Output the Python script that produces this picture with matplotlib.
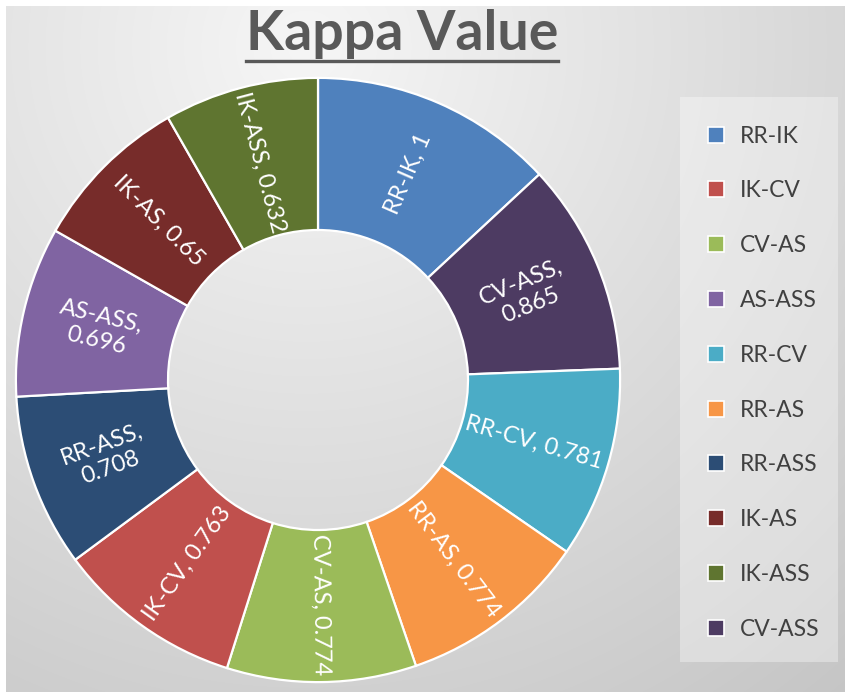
import matplotlib
matplotlib.use("Agg")
import matplotlib.pyplot as plt
import numpy as np
from matplotlib.patches import Patch, Rectangle
from matplotlib.lines import Line2D

plt.rcParams["font.family"] = ["Lato", "DejaVu Sans"]

# data, in legend order
pairs = ["RR-IK", "IK-CV", "CV-AS", "AS-ASS", "RR-CV",
         "RR-AS", "RR-ASS", "IK-AS", "IK-ASS", "CV-ASS"]
kappa = [1, 0.763, 0.774, 0.696, 0.781, 0.774, 0.708, 0.65, 0.632, 0.865]
colors = ["#4F81BD", "#C0504D", "#9BBB59", "#8064A2", "#4BACC6",
          "#F79646", "#2C4D75", "#772C2A", "#5F7530", "#4D3B62"]

# order of the slices, clockwise from the top
ring_order = ["RR-IK", "CV-ASS", "RR-CV", "RR-AS", "CV-AS",
              "IK-CV", "RR-ASS", "AS-ASS", "IK-AS", "IK-ASS"]
two_line = ["CV-ASS", "AS-ASS", "RR-ASS"]

W, H = 851, 698
fig = plt.figure(figsize=(W / 100, H / 100), dpi=100)
fig.patch.set_facecolor("white")

# gradient background
bg = fig.add_axes([6 / W, 6 / H, 839 / W, 686 / H])
bg.set_axis_off()
yy, xx = np.mgrid[0:686, 0:839]
d = np.hypot(xx - 300, yy - 40) / 860
d = np.clip(d, 0, 1)
c0, c1 = 0.965, 0.77
grad = c0 + (c1 - c0) * d
bg.imshow(np.dstack([grad, grad, grad]), aspect="auto", interpolation="bilinear")

# doughnut
ax = fig.add_axes([18 / W, 18 / H, 600 / W, 600 / H])
ax.patch.set_alpha(0)
idx = [pairs.index(p) for p in ring_order]
vals = [kappa[i] for i in idx]
cols = [colors[i] for i in idx]
wedges, _ = ax.pie(vals, colors=cols, startangle=90, counterclock=False,
                   radius=1.007,
                   wedgeprops=dict(width=0.507, edgecolor="white", linewidth=1.6))
ax.set_xlim(-1, 1)
ax.set_ylim(-1, 1)
ax.set_aspect("equal")
ax.axis("off")

for w, name, v in zip(wedges, ring_order, vals):
    ang = (w.theta1 + w.theta2) / 2
    r = 0.75
    x, y = r * np.cos(np.radians(ang)), r * np.sin(np.radians(ang))
    rot = (ang + 90) % 180 - 90
    sep = ",\n" if name in two_line else ", "
    ax.text(x, y, f"{name}{sep}{v:g}", rotation=rot, rotation_mode="anchor",
            ha="center", va="center", color="white", fontsize=17,
            linespacing=1.2, multialignment="center")

# legend box
fig.patches.append(Rectangle((680 / W, 1 - 662 / H), 158 / W, 565 / H,
                             transform=fig.transFigure, facecolor="white",
                             alpha=0.35, edgecolor="none"))
handles = [Patch(facecolor=c, edgecolor="white", linewidth=1.2) for c in colors]
fig.legend(handles, pairs, loc="upper left",
           bbox_to_anchor=(687 / W, 1 - 105 / H), frameon=False,
           fontsize=16.5, handlelength=0.7, handleheight=0.7,
           handletextpad=0.7, labelspacing=1.475, labelcolor="#404040")

# title
title = fig.text(402 / W, 1 - 50 / H, "Kappa Value", ha="center", va="baseline",
                 fontsize=40, fontweight="bold", color="#595959")
fig.canvas.draw()
bb = title.get_window_extent()
uy = (H - 61) / H
fig.add_artist(Line2D([bb.x0 / W, bb.x1 / W], [uy, uy], transform=fig.transFigure,
                      color="#595959", linewidth=2.4))

fig.savefig("out.png", dpi=100)
